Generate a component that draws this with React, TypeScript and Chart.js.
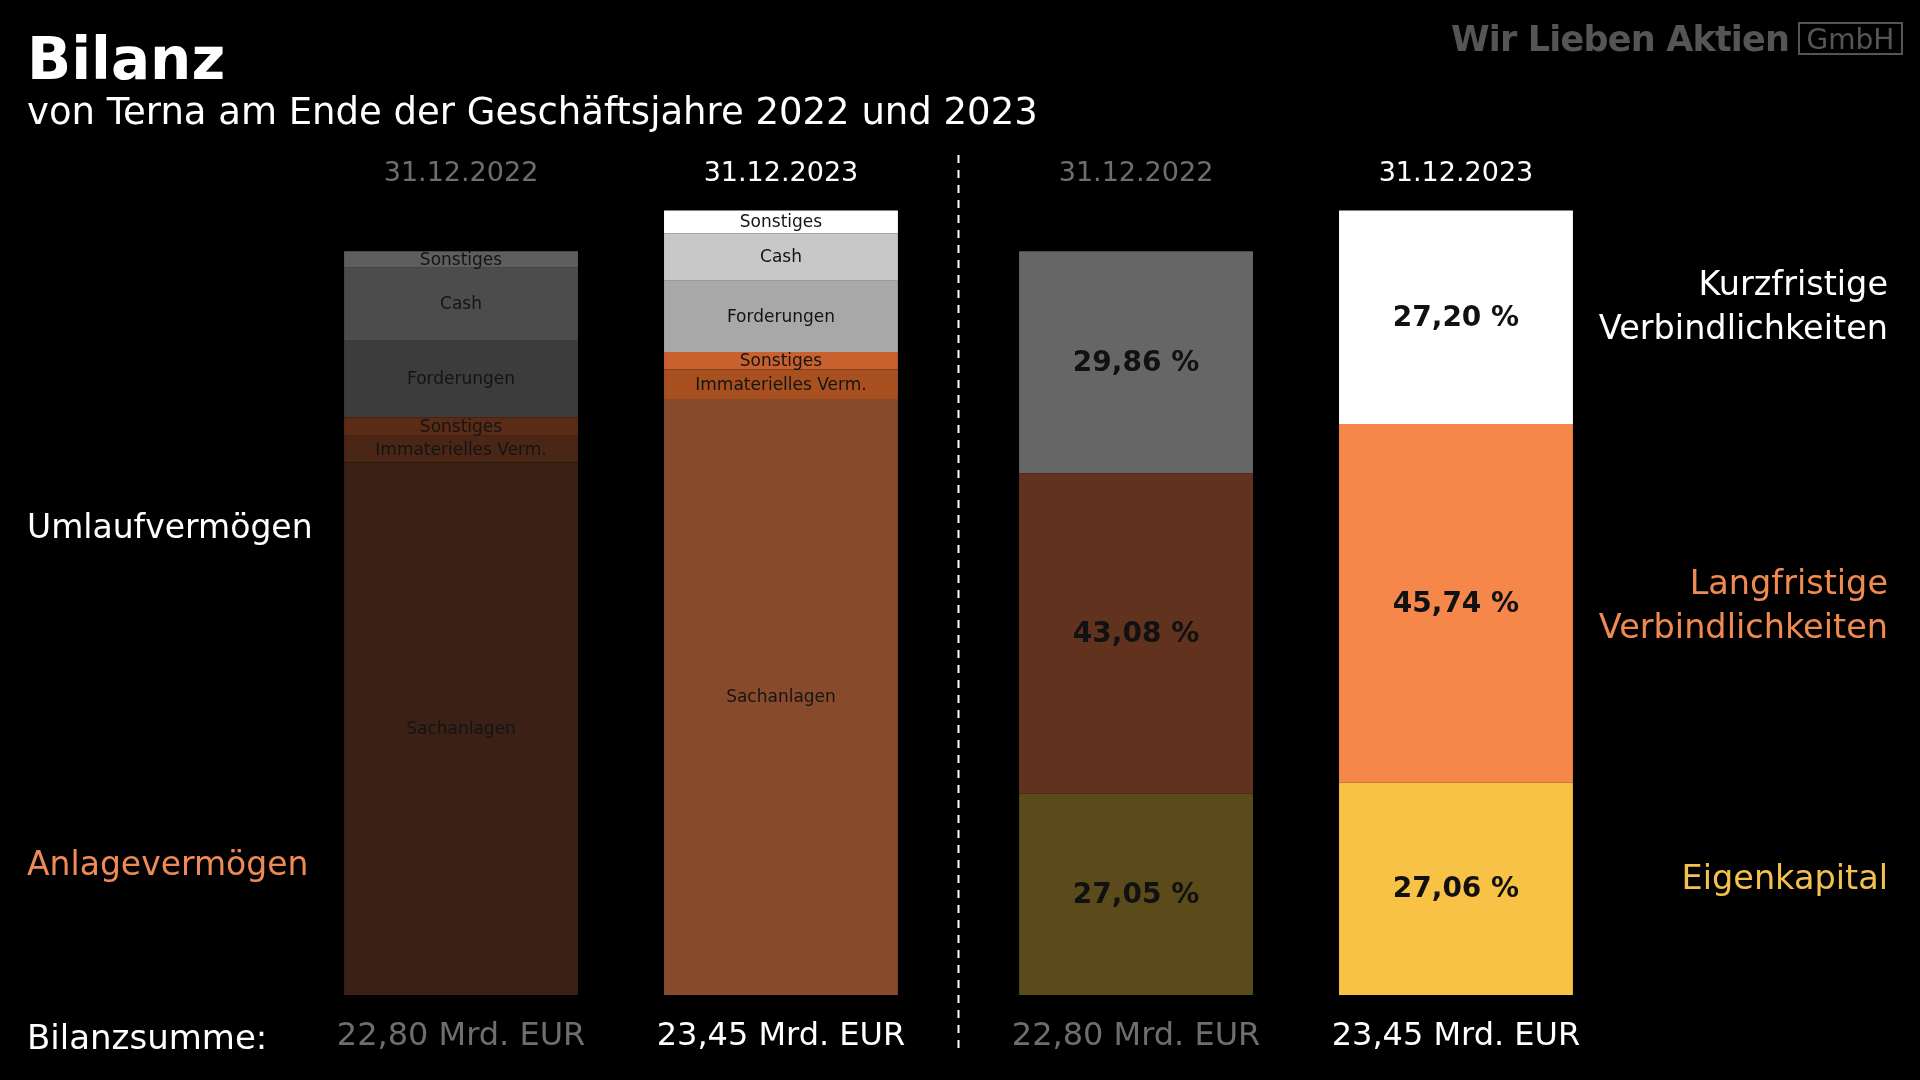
import React, { useEffect, useRef } from 'react';
import { Chart, registerables } from 'chart.js';

Chart.register(...registerables);

// ---------- data ----------
const sides = ['Aktiva', 'Passiva'];
const years = ['2022', '2023'];
const dateLabels = ['31.12.2022', '31.12.2023'];
const totalLabels = ['22,80 Mrd. EUR', '23,45 Mrd. EUR'];
const totals = [22.8, 23.45];

const assetNames = ['Sachanlagen', 'Immaterielles Verm.', 'Sonstiges', 'Forderungen', 'Cash', 'Sonstiges'];
const assets2022 = [16.32, 0.82, 0.57, 2.37, 2.21, 0.51];
const assets2023 = [17.82, 0.88, 0.52, 2.13, 1.42, 0.68];

const liabilityNames = ['Eigenkapital', 'Langfristige Verbindlichkeiten', 'Kurzfristige Verbindlichkeiten'];
const liabilityPct2022 = [27.05, 43.08, 29.86];
const liabilityPct2023 = [27.06, 45.74, 27.2];

// ---------- styles ----------
const FONT = '"DejaVu Sans", sans-serif';
const assetColors2022 = ['#3b2015', '#4a2616', '#5a2c16', '#3c3c3c', '#4c4c4c', '#5e5e5e'];
const assetColors2023 = ['#874b2c', '#a8501f', '#c9612e', '#a8a8a8', '#c8c8c8', '#ffffff'];
const liabColors2022 = ['#5c4b1a', '#61321e', '#666666'];
const liabColors2023 = ['#f8c246', '#f5874b', '#ffffff'];
const yearTextColors = ['#6e6e6e', '#ffffff'];
const yearAxes = ['y', 'y2023'];

const fmtPct = (v: number) => v.toFixed(2).replace('.', ',') + ' %';

function buildDatasets() {
  const ds: any[] = [];
  const assetSets = [assets2022, assets2023];
  const assetCols = [assetColors2022, assetColors2023];
  const liabSets = [liabilityPct2022, liabilityPct2023];
  const liabCols = [liabColors2022, liabColors2023];
  years.forEach((yr, yi) => {
    assetNames.forEach((name, i) => {
      ds.push({
        label: name + ' ' + yr,
        stack: yr,
        yAxisID: yearAxes[yi],
        data: [assetSets[yi][i], null],
        backgroundColor: assetCols[yi][i],
        segText: name,
        segKind: 'asset',
        yearIdx: yi,
      });
    });
    liabilityNames.forEach((name, i) => {
      ds.push({
        label: name + ' ' + yr,
        stack: yr,
        yAxisID: yearAxes[yi],
        data: [null, (liabSets[yi][i] / 100) * totals[yi]],
        backgroundColor: liabCols[yi][i],
        segText: fmtPct(liabSets[yi][i]),
        segKind: 'liab',
        yearIdx: yi,
      });
    });
  });
  return ds;
}

const labelPlugin = {
  id: 'bilanzLabels',
  afterDatasetsDraw(chart: any) {
    const ctx = chart.ctx;
    const xs = chart.scales.x;
    ctx.save();
    // dashed separator
    const midX = (xs.getPixelForValue(0) + xs.getPixelForValue(1)) / 2;
    ctx.strokeStyle = '#ffffff';
    ctx.lineWidth = 2;
    ctx.setLineDash([8, 7]);
    ctx.beginPath();
    ctx.moveTo(midX, 155);
    ctx.lineTo(midX, 1055);
    ctx.stroke();
    ctx.setLineDash([]);

    ctx.textAlign = 'center';
    ctx.textBaseline = 'middle';
    const headerDone: Record<string, boolean> = {};
    chart.data.datasets.forEach((ds: any, di: number) => {
      const meta = chart.getDatasetMeta(di);
      meta.data.forEach((el: any, i: number) => {
        const v = ds.data[i];
        if (v === null || v === undefined) return;
        const p = el.getProps(['x', 'y', 'base'], true);
        const cy = (p.y + p.base) / 2;
        if (ds.segKind === 'asset') {
          ctx.font = '17px ' + FONT;
          ctx.fillStyle = '#141414';
        } else {
          ctx.font = 'bold 28px ' + FONT;
          ctx.fillStyle = '#111111';
        }
        ctx.fillText(ds.segText, p.x, cy + 1);
        const key = i + '-' + ds.yearIdx;
        if (!headerDone[key]) {
          headerDone[key] = true;
          ctx.fillStyle = yearTextColors[ds.yearIdx];
          ctx.font = '27px ' + FONT;
          ctx.fillText(dateLabels[ds.yearIdx], p.x, 174);
          ctx.font = '32px ' + FONT;
          ctx.fillText(totalLabels[ds.yearIdx], p.x, 1037);
        }
      });
    });
    ctx.restore();
  },
};

const abs = (extra: React.CSSProperties): React.CSSProperties => ({
  position: 'absolute',
  fontFamily: FONT,
  lineHeight: 1,
  whiteSpace: 'nowrap',
  margin: 0,
  ...extra,
});

export default function App() {
  const ref = useRef<HTMLCanvasElement | null>(null);
  useEffect(() => {
    if (!ref.current) return;
    const chart = new Chart(ref.current, {
      type: 'bar',
      data: { labels: sides, datasets: buildDatasets() },
      options: {
        animation: false,
        responsive: false,
        maintainAspectRatio: false,
        layout: { padding: { left: 283.5, right: 286.5, top: 150, bottom: 85 } },
        datasets: { bar: { categoryPercentage: 0.948, barPercentage: 0.731, borderWidth: 0 } },
        scales: {
          x: { stacked: true, display: false },
          y: { stacked: true, display: false, min: 0, max: 25.9 },
          y2023: { stacked: true, display: false, min: 0, max: 25.26 },
        },
        plugins: { legend: { display: false }, tooltip: { enabled: false } },
      } as any,
      plugins: [labelPlugin],
    });
    return () => chart.destroy();
  }, []);

  const rightLabel = (text: string, cy: number, color: string) => (
    <div style={abs({ right: 32, top: cy - 16, fontSize: 33.5, color, textAlign: 'right' })}>{text}</div>
  );

  return (
    <div style={{ position: 'fixed', left: 0, top: 0, width: 1920, height: 1080, background: '#000', overflow: 'hidden' }}>
      <canvas ref={ref} width={1920} height={1080} style={{ position: 'absolute', left: 0, top: 0, display: 'block' }} />
      <div style={abs({ left: 27, top: 30, fontSize: 58, fontWeight: 'bold', color: '#fff' })}>Bilanz</div>
      <div style={abs({ left: 27, top: 93, fontSize: 37, color: '#fff' })}>
        von Terna am Ende der Geschäftsjahre 2022 und 2023
      </div>
      <div style={abs({ left: 1451, top: 22, fontSize: 35, fontWeight: 'bold', color: '#555', letterSpacing: -0.8 })}>
        Wir Lieben Aktien
      </div>
      <div
        style={abs({
          left: 1798,
          top: 22,
          width: 101,
          height: 27,
          border: '2px solid #555',
          color: '#555',
          fontSize: 28,
          textAlign: 'center',
          paddingTop: 2,
        })}
      >
        GmbH
      </div>
      <div style={abs({ left: 27, top: 510, fontSize: 33, color: '#fff' })}>Umlaufvermögen</div>
      <div style={abs({ left: 27, top: 847, fontSize: 33, color: '#ee8a55' })}>Anlagevermögen</div>
      <div style={abs({ left: 27, top: 1020, fontSize: 34, color: '#fff' })}>Bilanzsumme:</div>
      {rightLabel('Kurzfristige', 283, '#ffffff')}
      {rightLabel('Verbindlichkeiten', 327, '#ffffff')}
      {rightLabel('Langfristige', 582, '#f08a50')}
      {rightLabel('Verbindlichkeiten', 626, '#f08a50')}
      {rightLabel('Eigenkapital', 877, '#f3c24e')}
    </div>
  );
}
